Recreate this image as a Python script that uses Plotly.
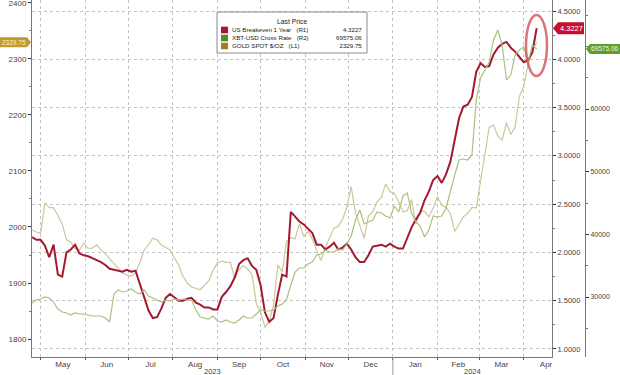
import plotly.graph_objects as go
import pandas as pd

# ---------------- data ----------------
dates = pd.date_range("2023-04-25", periods=118, freq="3D")

breakeven_1y = [2.16, 2.13, 2.13, 2.07, 1.95, 2.08, 1.77, 1.75, 2.00, 2.03,
                2.08, 1.99, 1.97, 1.96, 1.94, 1.92, 1.90, 1.87, 1.83, 1.82,
                1.81, 1.80, 1.82, 1.80, 1.81, 1.67, 1.54, 1.40, 1.32, 1.33,
                1.42, 1.53, 1.57, 1.53, 1.50, 1.50, 1.52, 1.53, 1.48, 1.46,
                1.43, 1.43, 1.41, 1.41, 1.54, 1.59, 1.65, 1.74, 1.88, 1.92,
                1.94, 1.86, 1.82, 1.66, 1.38, 1.28, 1.32, 1.56, 1.77, 1.75,
                2.42, 2.37, 2.32, 2.29, 2.25, 2.20, 2.08, 2.08, 2.03, 2.06,
                2.10, 2.03, 2.05, 2.09, 2.03, 1.95, 1.90, 1.90, 1.97, 2.06,
                2.07, 2.08, 2.06, 2.09, 2.06, 2.04, 2.04, 2.15, 2.26, 2.34,
                2.41, 2.54, 2.63, 2.75, 2.79, 2.72, 2.81, 2.94, 3.16, 3.39,
                3.51, 3.53, 3.61, 3.87, 3.96, 3.92, 3.93, 4.05, 4.12, 4.16,
                4.18, 4.12, 4.08, 4.02, 3.97, 3.99, 4.07, 4.3227]

xbt_usd = [29040, 29520, 29680, 30000, 29840, 29200, 28090, 27600, 27450, 27130,
           27450, 27290, 27290, 27130, 26970, 26970, 26970, 26650, 26010, 30480,
           31120, 30800, 30960, 31280, 30800, 30480, 31120, 30160, 29840, 29520,
           29200, 29520, 29360, 29680, 29520, 29680, 29520, 29520, 27930, 26810,
           26650, 26490, 26970, 26170, 26010, 26330, 26010, 25850, 26330, 26970,
           26650, 26650, 27290, 27930, 27770, 27770, 27930, 28560, 28880, 29520,
           31910, 33990, 34630, 34630, 35270, 35580, 36700, 36860, 37500, 37180,
           37180, 37660, 37500, 38460, 39730, 42290, 43880, 41650, 41970, 42290,
           43560, 43400, 42920, 42610, 44520, 43560, 46120, 46600, 43400, 41970,
           41330, 39570, 40690, 42920, 42770, 42920, 44200, 47070, 49470, 51860,
           52020, 51860, 52660, 61430, 64950, 66220, 67500, 71010, 72600, 70210,
           64630, 65420, 68620, 69410, 69890, 67500, 70210, 69575.06]

gold_spot = [1995, 1991, 1989, 2043, 2035, 2034, 2021, 2005, 1977, 1973,
             1961, 1959, 1971, 1962, 1962, 1968, 1959, 1952, 1943, 1934,
             1927, 1918, 1914, 1912, 1918, 1936, 1959, 1968, 1980, 1977,
             1968, 1964, 1959, 1945, 1932, 1912, 1900, 1893, 1891, 1888,
             1896, 1904, 1923, 1936, 1939, 1937, 1937, 1908, 1924, 1931,
             1925, 1915, 1864, 1848, 1821, 1832, 1861, 1932, 1920, 1974,
             1981, 1979, 2006, 1983, 1992, 1978, 1958, 1940, 1963, 1980,
             1998, 2001, 2014, 2036, 2072, 2025, 2004, 1980, 2020, 2027,
             2045, 2053, 2077, 2063, 2060, 2045, 2027, 2029, 2049, 2005,
             2029, 2028, 2018, 2034, 2054, 2039, 2035, 2024, 1992, 2004,
             2018, 2024, 2035, 2034, 2083, 2128, 2178, 2182, 2162, 2155,
             2186, 2165, 2178, 2233, 2251, 2290, 2315, 2329.75]

left_ticks = [1800, 1900, 2000, 2100, 2200, 2300, 2400]
r1_ticks = [1.0, 1.5, 2.0, 2.5, 3.0, 3.5, 4.0, 4.5]
r2_ticks = [30000, 40000, 50000, 60000]

names = ["US Breakeven 1 Year\u00a0\u00a0 (R1)",
         "XBT-USD Cross Rate\u00a0\u00a0 (R2)",
         "GOLD SPOT $/OZ\u00a0\u00a0 (L1)"]

RED = "#a3192f"
XBT_LINE = "#a9c27e"
GOLD_LINE = "#ccc79c"

# ---------------- layout helpers (decorations only) ----------------
W, H = 620, 375
ML, MR, MT, MB = 32, 35, 0, 18
PW = W - ML - MR
PH = H - MT - MB


def px(x):
    return (x - ML) / PW


def py(y):
    return 1 - (y - MT) / PH


fig = go.Figure()
fig.add_trace(go.Scatter(x=dates, y=gold_spot, yaxis="y", mode="lines",
                         line=dict(color=GOLD_LINE, width=1.2), name=names[2]))
fig.add_trace(go.Scatter(x=dates, y=xbt_usd, yaxis="y3", mode="lines",
                         line=dict(color=XBT_LINE, width=1.2), name=names[1]))
fig.add_trace(go.Scatter(x=dates, y=breakeven_1y, yaxis="y2", mode="lines",
                         line=dict(color=RED, width=2), name=names[0]))

grid = "#c4c4c4"
axcol = "#777777"
FAM = "Liberation Sans, Arial, sans-serif"
tickfont = dict(family=FAM, size=8, color="#444")

fig.update_layout(
    width=W, height=H,
    margin=dict(l=ML, r=MR, t=MT, b=MB),
    paper_bgcolor="white", plot_bgcolor="white",
    showlegend=False,
    font=dict(family=FAM, size=8, color="#444"),
    xaxis=dict(domain=[0, 520 / PW],
               range=["2023-04-25", "2024-04-20 16:00"],
               tick0="2023-05-01", dtick="M1", tickformat="%b",
               ticklabelmode="period", ticklabelstandoff=-3,
               showgrid=True, gridcolor=grid, griddash="dot", gridwidth=1,
               showline=True, linecolor=axcol, linewidth=1,
               ticks="outside", ticklen=2, tickcolor="#555",
               zeroline=False, tickfont=tickfont),
    yaxis=dict(range=[1768, 2405], tickvals=left_ticks,
               showgrid=False, zeroline=False,
               showline=True, linecolor=axcol, linewidth=1,
               ticks="outside", ticklen=3, tickcolor="#333",
               ticklabeloverflow="allow",
               minor=dict(ticks="outside", ticklen=2, dtick=50, tick0=1800,
                          tickcolor="#777", showgrid=False),
               tickfont=tickfont),
    yaxis2=dict(range=[0.917, 4.614], overlaying="y", side="right", anchor="x",
                tickvals=r1_ticks, tickformat=".4f",
                showgrid=True, gridcolor=grid, griddash="dot", gridwidth=1,
                zeroline=False,
                showline=True, linecolor=axcol, linewidth=1,
                ticks="outside", ticklen=3, tickcolor="#333",
                minor=dict(ticks="outside", ticklen=2, dtick=0.25, tick0=1.0,
                           tickcolor="#777", showgrid=False),
                tickfont=dict(family=FAM, size=7.5, color="#444")),
    yaxis3=dict(range=[20426, 77393], overlaying="y", side="right",
                anchor="free", position=1.0,
                tickvals=r2_ticks, tickformat="d",
                showgrid=False, zeroline=False,
                showline=True, linecolor=axcol, linewidth=1,
                ticks="outside", ticklen=3, tickcolor="#333",
                minor=dict(ticks="outside", ticklen=2, dtick=5000, tick0=20000,
                           tickcolor="#777", showgrid=False),
                tickfont=dict(family=FAM, size=7, color="#444")),
)

shapes = []
annotations = []

# year separator below the axis and year labels
start = pd.Timestamp("2023-04-25")
end = pd.Timestamp("2024-04-20 16:00")
ny = pd.Timestamp("2024-01-01")
shapes.append(dict(type="line", xref="x", yref="paper", x0=ny, x1=ny,
                   y0=py(357), y1=py(375), line=dict(color="#999", width=1)))
for label, a, b in [("2023", start, ny), ("2024", ny, end)]:
    annotations.append(dict(text=label, xref="x", yref="paper",
                            x=a + (b - a) / 2, y=py(371.5), showarrow=False,
                            font=dict(size=7.5, color="#444"),
                            xanchor="center", yanchor="middle"))

# legend box
shapes.append(dict(type="rect", xref="paper", yref="paper",
                   x0=px(217), x1=px(367), y0=py(53), y1=py(12),
                   line=dict(color="#8a8a8a", width=1), fillcolor="white",
                   layer="above"))
annotations.append(dict(text="Last Price", xref="paper", yref="paper",
                        x=px(292), y=py(21), showarrow=False,
                        font=dict(size=6.8, color="#222"),
                        xanchor="center", yanchor="middle", borderpad=0))
sq_colors = ["#b0122f", "#4e8f26", "#a57c22"]
last_vals = [f"{breakeven_1y[-1]:.4f}", f"{xbt_usd[-1]:.2f}", f"{gold_spot[-1]:.2f}"]
for k, c in enumerate(sq_colors):
    yc = 30 + 8 * k
    shapes.append(dict(type="rect", xref="paper", yref="paper",
                       x0=px(221), x1=px(228), y0=py(yc + 3.3), y1=py(yc - 3.3),
                       line=dict(width=0), fillcolor=c, layer="above"))
annotations.append(dict(text="<br>".join(names), xref="paper", yref="paper",
                        x=px(231), y=py(38), showarrow=False, align="left",
                        font=dict(size=6.2, color="#222"),
                        xanchor="left", yanchor="middle", borderpad=0))
annotations.append(dict(text="<br>".join(last_vals), xref="paper", yref="paper",
                        x=px(363), y=py(38), showarrow=False, align="right",
                        font=dict(size=6.2, color="#222"),
                        xanchor="right", yanchor="middle", borderpad=0))

# highlight ellipse round the last points
shapes.append(dict(type="circle", xref="paper", yref="paper",
                   x0=px(526), x1=px(547), y0=py(76), y1=py(15),
                   line=dict(color="rgba(205,70,80,0.75)", width=2.5)))

# last value tags
r1_half = 6 / PH * (4.614 - 0.917)
shapes.append(dict(type="path", xref="paper", yref="y2",
                   path=f"M {px(553)},{breakeven_1y[-1]} L {px(558)},{breakeven_1y[-1] + r1_half} "
                        f"L {px(584)},{breakeven_1y[-1] + r1_half} L {px(584)},{breakeven_1y[-1] - r1_half} "
                        f"L {px(558)},{breakeven_1y[-1] - r1_half} Z",
                   fillcolor="#c8102e", line=dict(width=0), layer="above"))
annotations.append(dict(text=last_vals[0], xref="paper", yref="y2",
                        x=px(571), y=breakeven_1y[-1], showarrow=False,
                        font=dict(size=7.5, color="white"),
                        xanchor="center", yanchor="middle", borderpad=0))

r2_half = 5 / PH * (77393 - 20426)
shapes.append(dict(type="path", xref="paper", yref="y3",
                   path=f"M {px(586)},{xbt_usd[-1]} L {px(590)},{xbt_usd[-1] + r2_half} "
                        f"L {px(625)},{xbt_usd[-1] + r2_half} L {px(625)},{xbt_usd[-1] - r2_half} "
                        f"L {px(590)},{xbt_usd[-1] - r2_half} Z",
                   fillcolor="#5e9e2b", line=dict(width=0), layer="above"))
annotations.append(dict(text=last_vals[1], xref="paper", yref="y3",
                        x=px(590), y=xbt_usd[-1], showarrow=False,
                        font=dict(size=6.5, color="#f2f7e6"),
                        xanchor="left", yanchor="middle", borderpad=0))

l1_half = 5 / PH * (2405 - 1768)
shapes.append(dict(type="path", xref="paper", yref="y",
                   path=f"M {px(31)},{gold_spot[-1]} L {px(27)},{gold_spot[-1] + l1_half} "
                        f"L {px(0)},{gold_spot[-1] + l1_half} L {px(0)},{gold_spot[-1] - l1_half} "
                        f"L {px(27)},{gold_spot[-1] - l1_half} Z",
                   fillcolor="#c39a2e", line=dict(width=0), layer="above"))
annotations.append(dict(text=last_vals[2], xref="paper", yref="y",
                        x=px(14), y=gold_spot[-1], showarrow=False,
                        font=dict(size=6.5, color="#fbf1d2"),
                        xanchor="center", yanchor="middle", borderpad=0))

fig.update_layout(shapes=shapes, annotations=annotations)
fig.write_html("out.html")
